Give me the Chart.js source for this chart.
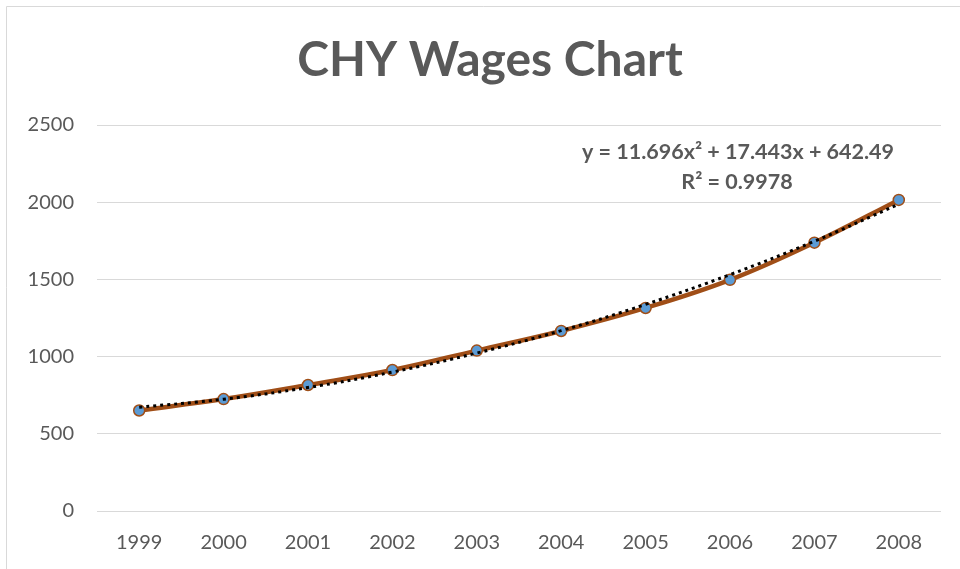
<!DOCTYPE html>
<html lang="en">
<head>
<meta charset="UTF-8" />
<title>CHY Wages Chart</title>
<script src="https://cdn.jsdelivr.net/npm/chart.js"></script>
<style>
  html, body { margin: 0; padding: 0; background: #fff; }
  #wrap { width: 960px; height: 569px; }
</style>
</head>
<body>
<div id="wrap"><canvas id="wagesChart" width="960" height="569"></canvas></div>
<script>
  // values
  const years = ['1999', '2000', '2001', '2002', '2003', '2004', '2005', '2006', '2007', '2008'];
  const wages = [651, 725, 816, 913, 1039, 1166, 1315, 1497, 1738, 2015];
  const trendValues = [672, 724, 800, 900, 1023, 1168, 1338, 1531, 1747, 1987];
  const yMax = 2500;
  const yStep = 500;

  const titleText = 'CHY Wages Chart';
  const equationLines = ['y = 11.696x² + 17.443x + 642.49', 'R² = 0.9978'];

  const textGrey = '#595959';
  const lineBrown = '#A04E17';
  const markerBlue = '#5B9BD5';

  const decorPlugin = {
    id: 'decor',
    beforeDraw(chart) {
      const c = chart.ctx;
      c.save();
      // chart frame (only top/left visible in the crop)
      c.strokeStyle = '#d9d9d9';
      c.lineWidth = 1;
      c.beginPath();
      c.moveTo(6.5, 569);
      c.lineTo(6.5, 6.5);
      c.lineTo(960, 6.5);
      c.stroke();

      c.fillStyle = textGrey;
      c.textAlign = 'center';
      c.textBaseline = 'middle';
      c.font = 'bold 48px Lato';
      c.fillText(titleText, 490, 61);
      c.restore();
    },
    afterDraw(chart) {
      const c = chart.ctx;
      c.save();
      c.fillStyle = textGrey;
      c.textAlign = 'center';
      c.textBaseline = 'middle';
      c.font = 'bold 21.5px Lato';
      c.fillText(equationLines[0], 738, 152);
      c.fillText(equationLines[1], 737, 182);
      c.restore();
    }
  };

  new Chart(document.getElementById('wagesChart'), {
    type: 'line',
    data: {
      labels: years,
      datasets: [
        {
          label: 'Trend',
          data: trendValues,
          borderColor: '#000',
          borderWidth: 3,
          borderDash: [3, 4],
          pointRadius: 0,
          tension: 0.4,
          fill: false,
          order: 0
        },
        {
          label: 'Wages',
          data: wages,
          borderColor: lineBrown,
          borderWidth: 4.5,
          pointRadius: 5.5,
          pointBackgroundColor: markerBlue,
          pointBorderColor: lineBrown,
          pointBorderWidth: 1.5,
          tension: 0.4,
          fill: false,
          order: 1
        }
      ]
    },
    options: {
      responsive: false,
      animation: false,
      layout: { padding: { top: 125, right: 19, left: 0, bottom: 0 } },
      plugins: {
        legend: { display: false },
        title: { display: false },
        tooltip: { enabled: false }
      },
      scales: {
        x: {
          offset: true,
          grid: { display: false, drawTicks: false },
          border: { display: false },
          ticks: { color: textGrey, font: { family: 'Lato', size: 20 }, padding: 20, maxRotation: 0 },
          afterFit: s => { s.height = 58; }
        },
        y: {
          min: 0,
          max: yMax,
          grid: { color: '#d9d9d9', lineWidth: 1, drawTicks: false },
          border: { display: false },
          ticks: {
            stepSize: yStep,
            color: textGrey,
            font: { family: 'Lato', size: 20 },
            padding: 23,
            callback: v => String(v)
          },
          afterFit: s => { s.width = 97; }
        }
      }
    },
    plugins: [decorPlugin]
  });
</script>
</body>
</html>
